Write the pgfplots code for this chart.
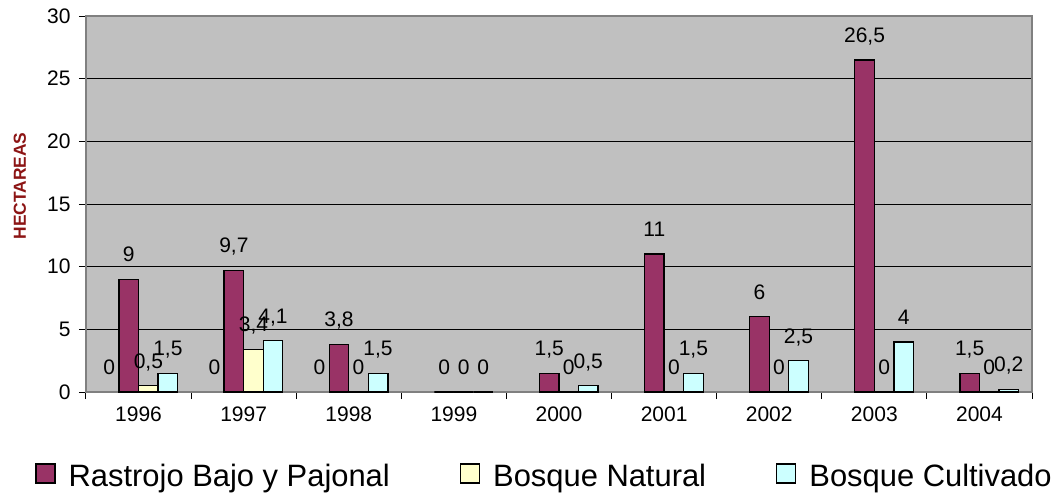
\documentclass[border=0pt]{standalone}
\usepackage{fontspec}
\setmainfont{Liberation Sans}
\usepackage{pgfplots}
\pgfplotsset{compat=1.18}
\definecolor{maroonx}{RGB}{153,51,102}
\definecolor{yellowx}{RGB}{255,255,204}
\definecolor{cyanx}{RGB}{204,255,255}
\definecolor{bgx}{RGB}{192,192,192}
\definecolor{labx}{RGB}{140,20,20}
\definecolor{borderx}{RGB}{128,128,128}
\begin{document}
\begin{tikzpicture}
\begin{axis}[
  name=ax,
  scale only axis,
  width=946pt, height=376pt,
  xmin=-0.5, xmax=8.5,
  ymin=0, ymax=30,
  ytick={0,5,...,30},
  xtick={0,...,8},
  xticklabels={1996,1997,1998,1999,2000,2001,2002,2003,2004},
  minor xtick={-0.5,0.5,...,8.5},
  major x tick style={draw=none},
  minor x tick style={black, line width=1pt},
  major y tick style={black, line width=1pt},
  tick align=outside,
  major tick length=7pt,
  minor tick length=7pt,
  xtick pos=left, ytick pos=left,
  ymajorgrids,
  grid style={black, line width=0.8pt},
  axis line style={borderx, line width=1.5pt},
  axis background/.style={fill=bgx},
  /pgf/number format/use comma,
  /pgf/number format/assume math mode=true,
  ticklabel style={font=\fontsize{21}{24}\selectfont},
  xticklabel style={anchor=base, yshift=-22pt},
  yticklabel style={anchor=east, xshift=-5pt},
  ylabel={HECTAREAS},
  ylabel style={font=\fontsize{17.4}{20}\selectfont\bfseries, text=labx,
    at={(axis description cs:-0.0698,0.548)}, anchor=center},
  nodes near coords,
  every node near coord/.append style={font=\fontsize{21}{24}\selectfont,
    anchor=base, inner sep=0pt, yshift=17.5pt, text=black},
  legend columns=3,
  legend style={at={(axis description cs:0.4847,-0.186)}, anchor=north,
    draw=none, fill=none, inner sep=0pt,
    font=\fontsize{30.9}{36}\selectfont,
    /tikz/every odd column/.append style={column sep=11pt},
    /tikz/every even column/.append style={column sep=68pt}},
  legend image code/.code={\draw[#1,draw=black,line width=1.3pt] (0pt,-7pt) rectangle (19pt,12pt);},
]
\addplot[ybar, bar width=0.186, bar shift=-0.279, draw=none, fill=none, forget plot,
  every node near coord/.append style={xshift=-29.3pt}]
  coordinates {(0,0) (1,0) (2,0)};
\addplot[ybar, bar width=0.186, bar shift=-0.093, draw=black, line width=1.3pt, fill=maroonx,
  every node near coord/.append style={xshift=-9.8pt}]
  coordinates {(0,9) (1,9.7) (2,3.8) (3,0) (4,1.5) (5,11) (6,6) (7,26.5) (8,1.5)};
\addplot[ybar, bar width=0.186, bar shift=0.093, draw=black, line width=1.3pt, fill=yellowx,
  every node near coord/.append style={xshift=9.8pt}]
  coordinates {(0,0.5) (1,3.4) (2,0) (3,0) (4,0) (5,0) (6,0) (7,0) (8,0)};
\addplot[ybar, bar width=0.186, bar shift=0.279, draw=black, line width=1.3pt, fill=cyanx,
  every node near coord/.append style={xshift=29.3pt}]
  coordinates {(0,1.5) (1,4.1) (2,1.5) (3,0) (4,0.5) (5,1.5) (6,2.5) (7,4) (8,0.2)};
\legend{Rastrojo Bajo y Pajonal, Bosque Natural, Bosque Cultivado}
\end{axis}
\pgfresetboundingbox
\path[use as bounding box] ([xshift=-86pt,yshift=-101pt]ax.south west) rectangle ([xshift=27pt,yshift=16pt]ax.north east);
\end{tikzpicture}
\end{document}
